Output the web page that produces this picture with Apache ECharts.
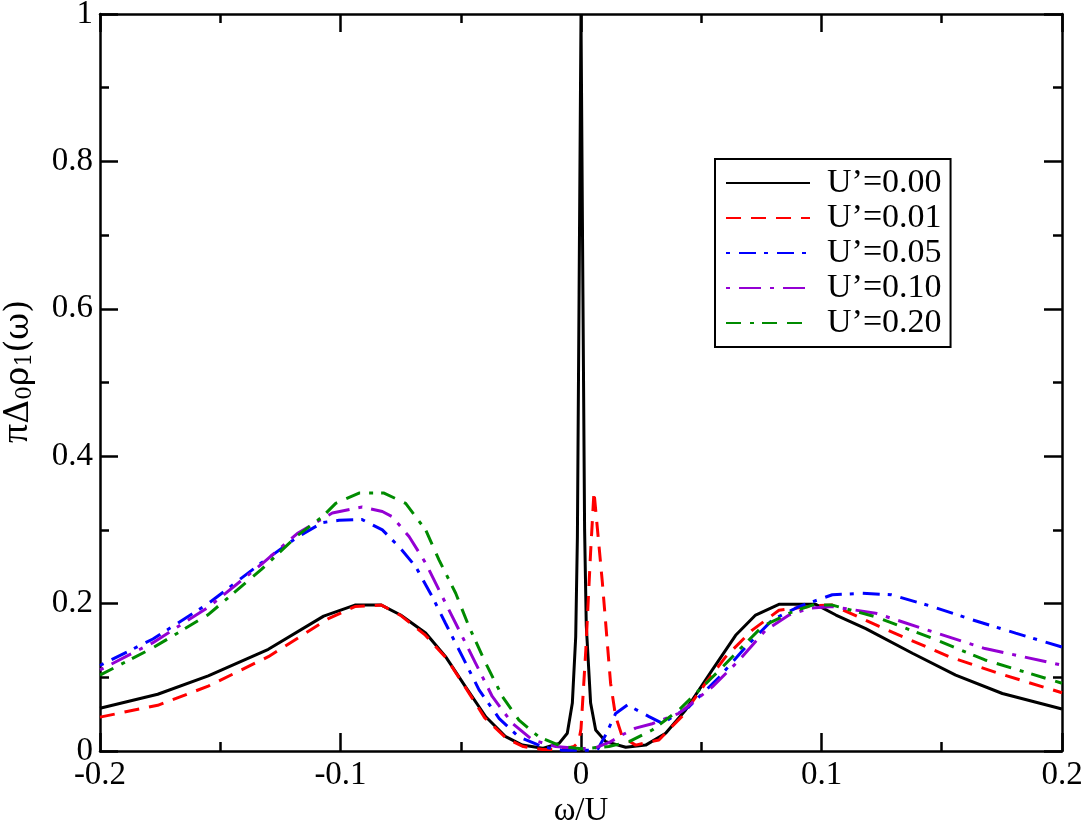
<!DOCTYPE html>
<html lang="en">
<head>
    <meta charset="UTF-8">
    <title>Spectral function</title>
    <script src="https://cdn.jsdelivr.net/npm/echarts@6/dist/echarts.min.js"></script>
    <style>
        html, body { margin: 0; padding: 0; background: #fff; }
        #container { width: 1086px; height: 820px; }
    </style>
</head>
<body>
<div id="container"></div>

<script type="text/javascript">
    // legend names
    var names = ['U’=0.00', 'U’=0.01', 'U’=0.05', 'U’=0.10', 'U’=0.20'];

    // U'=0.00 (black)
    var x0 = [-0.2, -0.176, -0.155, -0.13, -0.107, -0.094, -0.083, -0.075, -0.0646, -0.0563, -0.048, -0.0396, -0.0313, -0.0244, -0.016, -0.0091, -0.0057, -0.0036, -0.0022, -0.0015, -0.0008, 0, 0.0008, 0.0015, 0.0022, 0.004, 0.0061, 0.0103, 0.0186, 0.0269, 0.0352, 0.0435, 0.0546, 0.0643, 0.0726, 0.0823, 0.0976, 0.106, 0.1184, 0.1378, 0.1558, 0.1752, 0.2];
    var y0 = [0.058, 0.077, 0.102, 0.138, 0.183, 0.198, 0.198, 0.1845, 0.160, 0.128, 0.087, 0.0465, 0.0194, 0.008, 0.0036, 0.0104, 0.024, 0.065, 0.155, 0.29, 0.62, 1.0, 0.62, 0.30, 0.17, 0.065, 0.0285, 0.0127, 0.005, 0.008, 0.024, 0.0556, 0.11, 0.157, 0.1845, 0.199, 0.199, 0.1845, 0.166, 0.1326, 0.103, 0.078, 0.057];

    // U'=0.01 (red)
    var x1 = [-0.2, -0.176, -0.155, -0.13, -0.1048, -0.094, -0.083, -0.075, -0.065, -0.056, -0.048, -0.04, -0.031, -0.024, -0.016, -0.008, -0.003, -0.001, 0, 0.002, 0.004, 0.0054, 0.0089, 0.0123, 0.0144, 0.0172, 0.0227, 0.0324, 0.042, 0.0518, 0.0602, 0.0712, 0.0823, 0.097, 0.1045, 0.124, 0.153, 0.174, 0.2];
    var y1 = [0.046, 0.062, 0.088, 0.128, 0.18, 0.196, 0.198, 0.184, 0.158, 0.126, 0.086, 0.045, 0.017, 0.006, 0.002, 0.002, 0.006, 0.012, 0.03, 0.137, 0.27, 0.352, 0.228, 0.092, 0.047, 0.019, 0.008, 0.015, 0.047, 0.092, 0.128, 0.164, 0.191, 0.197, 0.198, 0.169, 0.128, 0.105, 0.079];

    // U'=0.05 (blue)
    var x2 = [-0.2, -0.178, -0.155, -0.133, -0.118, -0.1075, -0.1006, -0.091, -0.0826, -0.0756, -0.0687, -0.0618, -0.0563, -0.0493, -0.0424, -0.034, -0.0258, -0.016, -0.0078, 0, 0.0067, 0.0103, 0.0144, 0.0193, 0.0283, 0.0338, 0.0449, 0.0574, 0.0685, 0.0796, 0.0906, 0.1045, 0.117, 0.129, 0.146, 0.1627, 0.1807, 0.2];
    var y2 = [0.116, 0.152, 0.2, 0.255, 0.29, 0.31, 0.313, 0.314, 0.300, 0.277, 0.25, 0.209, 0.173, 0.128, 0.083, 0.044, 0.019, 0.006, 0.001, 0.001, 0.001, 0.022, 0.051, 0.0624, 0.0466, 0.0375, 0.06, 0.10, 0.141, 0.178, 0.196, 0.212, 0.214, 0.212, 0.196, 0.178, 0.16, 0.141];

    // U'=0.10 (violet)
    var x3 = [-0.2, -0.178, -0.155, -0.133, -0.118, -0.1034, -0.091, -0.0826, -0.0785, -0.0715, -0.0646, -0.0576, -0.0507, -0.0438, -0.0369, -0.0286, -0.0202, -0.0105, -0.0022, 0.005, 0.012, 0.0172, 0.0227, 0.0296, 0.0407, 0.0546, 0.0657, 0.0768, 0.0865, 0.0948, 0.1045, 0.1225, 0.146, 0.168, 0.2];
    var y3 = [0.11, 0.147, 0.195, 0.253, 0.295, 0.323, 0.331, 0.325, 0.318, 0.291, 0.255, 0.209, 0.164, 0.119, 0.074, 0.0376, 0.015, 0.006, 0.0036, 0.003, 0.012, 0.022, 0.031, 0.037, 0.051, 0.087, 0.123, 0.164, 0.1845, 0.1936, 0.196, 0.187, 0.162, 0.139, 0.1165];

    // U'=0.20 (green)
    var x4 = [-0.2, -0.178, -0.155, -0.133, -0.118, -0.1075, -0.102, -0.0923, -0.0819, -0.0729, -0.0646, -0.059, -0.0521, -0.0466, -0.0396, -0.0327, -0.0258, -0.0175, -0.0078, 0, 0.0116, 0.02, 0.0296, 0.0407, 0.0546, 0.0657, 0.0754, 0.0879, 0.0962, 0.1045, 0.1225, 0.146, 0.168, 0.2];
    var y4 = [0.103, 0.14, 0.185, 0.246, 0.292, 0.318, 0.336, 0.35, 0.350, 0.336, 0.30, 0.259, 0.214, 0.169, 0.119, 0.074, 0.042, 0.019, 0.006, 0.003, 0.006, 0.0127, 0.0285, 0.0556, 0.10, 0.137, 0.169, 0.189, 0.198, 0.198, 0.182, 0.153, 0.1235, 0.092];

    var xs = [x0, x1, x2, x3, x4];
    var ys = [y0, y1, y2, y3, y4];
    var colors = ['#000000', '#ff0000', '#0000ff', '#9400d3', '#008b00'];
    var dashes = ['solid', [15, 10], [4, 9, 17, 8], [4, 9, 22, 9], [15, 9, 4, 8, 15, 10]];

    var font = 'Liberation Serif';

    function pairs(xa, ya) {
        var out = [];
        for (var i = 0; i < xa.length; i++) {
            out.push([xa[i], ya[i]]);
        }
        return out;
    }

    var series = [];
    for (var k = 0; k < names.length; k++) {
        series.push({
            name: names[k],
            type: 'line',
            data: pairs(xs[k], ys[k]),
            symbol: 'none',
            smooth: false,
            animation: false,
            lineStyle: { color: colors[k], width: 3, type: dashes[k] },
            itemStyle: { color: colors[k] }
        });
    }

    function axisCommon() {
        return {
            axisLine: { show: true, onZero: false, lineStyle: { color: '#000', width: 2.5 } },
            axisTick: { show: true, inside: true, length: 18, lineStyle: { color: '#000', width: 2.5 } },
            minorTick: { show: true, splitNumber: 2, length: 9, lineStyle: { color: '#000', width: 2.5 } },
            splitLine: { show: false }
        };
    }

    var myChart = echarts.init(document.getElementById('container'), null, { renderer: 'canvas' });

    var option = {
        backgroundColor: '#fff',
        animation: false,
        grid: { left: 100, right: 24, top: 14, bottom: 69, containLabel: false, outerBoundsMode: 'none' },
        legend: {
            data: names,
            orient: 'vertical',
            left: 715,
            top: 159,
            padding: [7, 9, 7, 10],
            itemWidth: 84,
            itemHeight: 14,
            itemGap: 1,
            borderColor: '#000',
            borderWidth: 2,
            backgroundColor: '#fff',
            itemStyle: { opacity: 0 },
            textStyle: { fontFamily: font, fontSize: 34, color: '#000', lineHeight: 32, padding: [0, 0, 0, 12] }
        },
        xAxis: [
            Object.assign({
                type: 'value', min: -0.2, max: 0.2, interval: 0.1,
                name: 'ω/U', nameLocation: 'middle', nameGap: 44, nameMoveOverlap: false,
                nameTextStyle: { fontFamily: font, fontSize: 33, color: '#000' },
                axisLabel: { fontFamily: font, fontSize: 33, color: '#000', margin: 8 }
            }, axisCommon()),
            Object.assign({
                type: 'value', min: -0.2, max: 0.2, interval: 0.1, position: 'top',
                axisLabel: { show: false }
            }, axisCommon())
        ],
        yAxis: [
            Object.assign({
                type: 'value', min: 0, max: 1, interval: 0.2,
                name: '{p|π}{m|Δ}{s|0}{m|ρ}{s|1}{m|(ω)}', nameLocation: 'middle', nameGap: 64, nameRotate: 90,
                nameTextStyle: {
                    fontFamily: 'DejaVu Serif', fontSize: 33, color: '#000', padding: [0, 0, 0, 22],
                    rich: {
                        p: { fontFamily: font, fontSize: 38, color: '#000', lineHeight: 38, verticalAlign: 'bottom' },
                        m: { fontFamily: 'DejaVu Serif', fontSize: 33, color: '#000', lineHeight: 38, verticalAlign: 'bottom' },
                        s: { fontFamily: 'DejaVu Serif', fontSize: 22, color: '#000', lineHeight: 30, verticalAlign: 'bottom' }
                    }
                },
                axisLabel: { fontFamily: font, fontSize: 33, color: '#000', margin: 7 }
            }, axisCommon()),
            Object.assign({
                type: 'value', min: 0, max: 1, interval: 0.2, position: 'right',
                axisLabel: { show: false }
            }, axisCommon())
        ],
        series: series
    };

    myChart.setOption(option);
    window.addEventListener('resize', myChart.resize);
</script>
</body>
</html>
